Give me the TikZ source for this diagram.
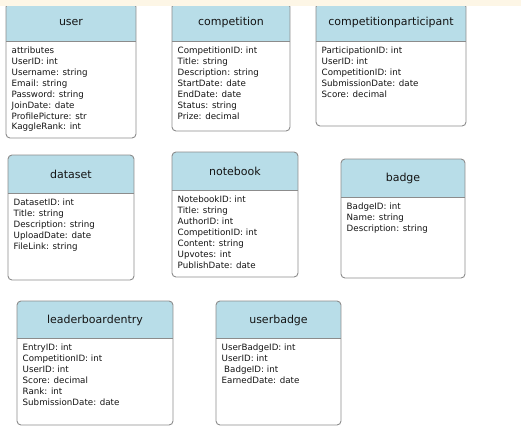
\documentclass[tikz,border=0pt]{standalone}
\usepackage{fontspec}
\setmainfont{DejaVu Sans}
\definecolor{hdr}{HTML}{B8DDE8}
\definecolor{bord}{HTML}{8C8C8C}
\definecolor{strip}{HTML}{FDF6E6}
\definecolor{txt}{HTML}{141414}
\tikzset{
  border/.style={draw=bord, line width=0.9pt},
  titletxt/.style={font=\fontsize{11}{12}\selectfont, text=txt, inner sep=0pt},
  bodytxt/.style={font=\fontsize{8.7}{10.95}\selectfont, text=txt, inner sep=0pt, align=left, anchor=north west},
}
\newcommand\entity[8]{%
  \begin{scope}
    \clip[rounded corners=4pt] (#2,#3) rectangle (#4,#6);
    \fill[hdr] (#2,#3) rectangle (#4,#5);
  \end{scope}
  \draw[border] (#2,#5) -- (#4,#5);
  \draw[border, rounded corners=4pt] (#2,#3) rectangle (#4,#6);
  \node[titletxt] (#1-t) at ({(#2+#4)/2},{(#3+#5)/2+0.5}) {#7};
  \node[bodytxt] (#1-b) at (#2+5.5,#5+5.5) {#8};
}
\begin{document}
\begin{tikzpicture}[x=1pt,y=-1pt]
\useasboundingbox (0,0) rectangle (521,429);
\fill[white] (0,0) rectangle (521,429);
\entity{user}{6}{3}{136}{41}{138}{user}{attributes\\UserID: int\\Username: string\\Email: string\\Password: string\\JoinDate: date\\ProfilePicture: str\\KaggleRank: int}
\entity{comp}{172}{3}{290}{41}{131}{competition}{CompetitionID: int\\Title: string\\Description: string\\StartDate: date\\EndDate: date\\Status: string\\Prize: decimal}
\entity{cp}{316}{3}{466}{41}{126}{competitionparticipant}{ParticipationID: int\\UserID: int\\CompetitionID: int\\SubmissionDate: date\\Score: decimal}
\entity{dataset}{8}{155}{134}{193}{280}{dataset}{DatasetID: int\\Title: string\\Description: string\\UploadDate: date\\FileLink: string}
\entity{notebook}{172}{152}{298}{190}{277}{notebook}{NotebookID: int\\Title: string\\AuthorID: int\\CompetitionID: int\\Content: string\\Upvotes: int\\PublishDate: date}
\entity{badge}{341}{159}{465}{197}{278}{badge}{BadgeID: int\\Name: string\\Description: string}
\entity{lbe}{17}{301}{173}{338}{425}{leaderboardentry}{EntryID: int\\CompetitionID: int\\UserID: int\\Score: decimal\\Rank: int\\SubmissionDate: date}
\entity{ub}{216}{301}{341}{338}{425}{userbadge}{UserBadgeID: int\\UserID: int\\\hspace{2.5pt}BadgeID: int\\EarnedDate: date}
\fill[strip] (0,0) rectangle (521,6);
\end{tikzpicture}
\end{document}
